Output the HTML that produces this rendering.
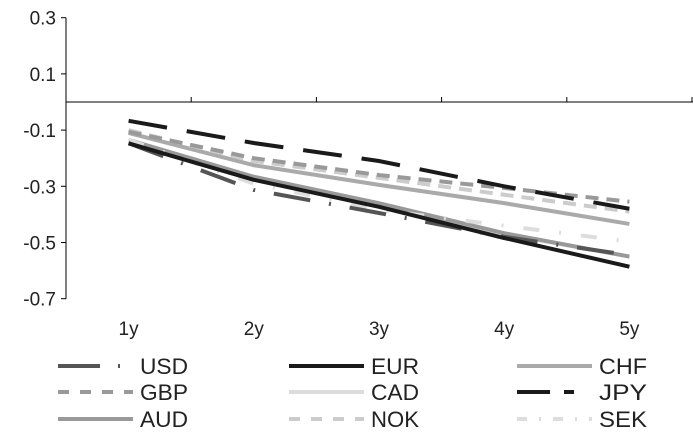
<!DOCTYPE html>
<html><head><meta charset="utf-8"><style>
body{margin:0;background:#fff;}
svg{display:block;font-family:"Liberation Sans",sans-serif;}
</style></head><body>
<svg id="chart" width="693" height="438" viewBox="0 0 693 438" xmlns="http://www.w3.org/2000/svg"></svg>
<script>
const categories = ["1y","2y","3y","4y","5y"];
const yTicks = [0.3,0.1,-0.1,-0.3,-0.5,-0.7];
const usd = [-0.147,-0.313,-0.395,-0.48,-0.545];
const eur = [-0.147,-0.277,-0.373,-0.484,-0.586];
const chf = [-0.11,-0.225,-0.295,-0.36,-0.434];
const gbp = [-0.106,-0.2,-0.26,-0.306,-0.355];
const cad = [-0.14,-0.27,-0.37,-0.47,-0.55];
const jpy = [-0.067,-0.146,-0.21,-0.30,-0.38];
const aud = [-0.135,-0.266,-0.36,-0.467,-0.55];
const nok = [-0.10,-0.21,-0.27,-0.33,-0.39];
const sek = [-0.135,-0.29,-0.384,-0.44,-0.497];
const seriesNames = ["USD","EUR","CHF","GBP","CAD","JPY","AUD","NOK","SEK"];
const seriesValues = [usd,eur,chf,gbp,cad,jpy,aud,nok,sek];
const styles = {
 USD:{c:"#555",d:"37 19 2 19"}, EUR:{c:"#1a1a1a",d:""}, CHF:{c:"#aaa",d:""},
 GBP:{c:"#999",d:"13 8"}, CAD:{c:"#ddd",d:""}, JPY:{c:"#1a1a1a",d:"39 20"},
 AUD:{c:"#999",d:""}, NOK:{c:"#ccc",d:"13 8"}, SEK:{c:"#ddd",d:"16 20 2 20"}
};
const drawOrder = ["CAD","AUD","SEK","USD","EUR","CHF","NOK","GBP","JPY"];
const svg = document.getElementById('chart');
const NS = "http://www.w3.org/2000/svg";
const left = 66, catW = 125.2, zeroY = 102, pxPerUnit = 281;
function xPos(i){return left + catW*(i+0.5);}
function yPos(v){return zeroY - v*pxPerUnit;}
function mk(tag, attrs){const e=document.createElementNS(NS,tag);for(const k in attrs)e.setAttribute(k,attrs[k]);svg.appendChild(e);return e;}
let ya = mk('line',{x1:left,y1:yPos(0.3),x2:left,y2:yPos(-0.7),stroke:'#000','stroke-width':1});


yTicks.forEach(v=>{
 const t=mk('line',{x1:left-5,y1:yPos(v),x2:left,y2:yPos(v),stroke:'#000'});
 
 
 const tx=mk('text',{x:56,y:yPos(v)+7,'text-anchor':'end','font-size':19,fill:'#222'});
 tx.textContent=v.toFixed(1);
 
 
});
const xa=mk('line',{x1:left,y1:zeroY,x2:693,y2:zeroY,stroke:'#000'});


for(let i=1;i<=5;i++){
 const t=mk('line',{x1:left+catW*i,y1:zeroY-5,x2:left+catW*i,y2:zeroY,stroke:'#000'});
 
 
}
categories.forEach((c,i)=>{
 const tx=mk('text',{x:xPos(i),y:335,'text-anchor':'middle','font-size':19,fill:'#222'});
 tx.textContent=c;
 
 
});
drawOrder.forEach(n=>{
 const vals=seriesValues[seriesNames.indexOf(n)];
 const s=styles[n];
 const p=mk('polyline',{points:vals.map((v,i)=>xPos(i)+','+yPos(v)).join(' '),fill:'none',stroke:s.c,'stroke-width':4,'stroke-dasharray':s.d,'stroke-linejoin':'round'});
 
 
});
const colX=[58,289,517], rowY=[366,392,419];
const legendDash = {USD:"42 18 2 20",GBP:"11 11",NOK:"11 11",JPY:"33 14 10 20",SEK:"10 12 2 12"};
seriesNames.forEach((n,k)=>{
 const cx=colX[k%3], cy=rowY[Math.floor(k/3)], s=styles[n];
 const l=mk('line',{x1:cx,y1:cy,x2:cx+75,y2:cy,stroke:s.c,'stroke-width':4,'stroke-dasharray':legendDash[n]||s.d});
 
 
 const tx=mk('text',{x:cx+82,y:cy+8,'font-size':22,fill:'#222',textLength:n.length*16,lengthAdjust:'spacingAndGlyphs'});
 tx.textContent=n;
 
 
});
</script>
</body></html>
